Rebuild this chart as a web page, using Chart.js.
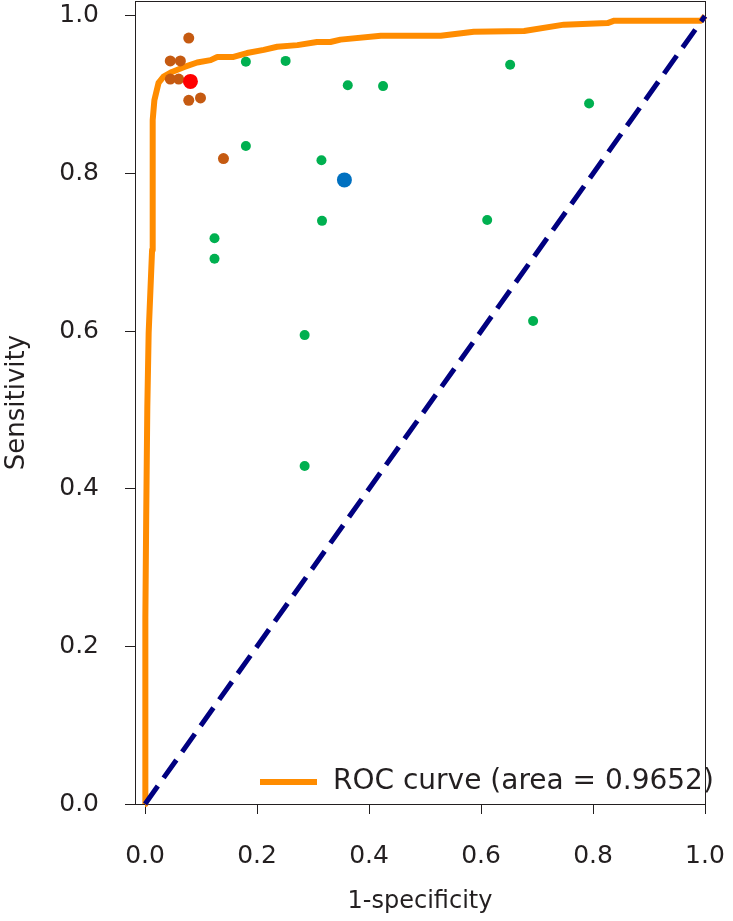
<!DOCTYPE html>
<html>
<head>
<meta charset="utf-8">
<script src="https://cdn.jsdelivr.net/npm/chart.js@4.4.0/dist/chart.umd.min.js"></script>
<style>
    html, body { margin: 0; padding: 0; background: #fff; }
    #roc-box { width: 733px; height: 921px; }
</style>
</head>
<body>
<div id="roc-box"><canvas id="roc-chart"></canvas></div>
<script>
// ROC curve
const roc_fpr = [0, 0.0005, 0.002, 0.004, 0.0064, 0.0125, 0.0136, 0.0166, 0.024, 0.033, 0.048, 0.069, 0.093, 0.117, 0.129, 0.158, 0.182, 0.212, 0.236, 0.272, 0.307, 0.331, 0.349, 0.421, 0.528, 0.587, 0.677, 0.748, 0.826, 0.838, 0.993, 1.0]
const roc_tpr = [0, 0.237, 0.364, 0.504, 0.598, 0.703, 0.868, 0.893, 0.915, 0.923, 0.929, 0.935, 0.941, 0.944, 0.948, 0.948, 0.953, 0.957, 0.961, 0.963, 0.967, 0.967, 0.970, 0.975, 0.975, 0.980, 0.981, 0.989, 0.991, 0.994, 0.994, 1.0]

// chance line
const diag_x = [0, 1]
const diag_y = [0, 1]

// green points
const green_x = [0.180, 0.251, 0.362, 0.425, 0.652, 0.793, 0.180, 0.315, 0.316, 0.611, 0.124, 0.124, 0.285, 0.693, 0.285]
const green_y = [0.942, 0.943, 0.912, 0.911, 0.938, 0.889, 0.835, 0.817, 0.740, 0.741, 0.718, 0.692, 0.595, 0.613, 0.429]

// brown points
const brown_x = [0.078, 0.045, 0.063, 0.045, 0.060, 0.078, 0.099, 0.140]
const brown_y = [0.972, 0.943, 0.943, 0.920, 0.920, 0.893, 0.896, 0.819]

// the two big points
const red_x = [0.081]
const red_y = [0.917]
const blue_x = [0.356]
const blue_y = [0.792]

const x_ticks = [0, 0.2, 0.4, 0.6, 0.8, 1.0]
const y_ticks = [0, 0.2, 0.4, 0.6, 0.8, 1.0]

const legend_label = 'ROC curve (area = 0.9652)'
const x_title = '1-specificity'
const y_title = 'Sensitivity'

const ink = '#231f20'
const font_name = '"DejaVu Sans", Verdana, sans-serif'

function to_points(xs, ys) {
    return xs.map((x, i) => ({x: x, y: ys[i]}))
}

// frame round the plot area
const frame_plugin = {
    id: 'frame_plugin',
    beforeDatasetsDraw(chart) {
        let a = chart.chartArea
        let ctx = chart.ctx
        ctx.save()
        ctx.strokeStyle = ink
        ctx.lineWidth = 1
        ctx.strokeRect(a.left + 0.5, a.top + 0.5, a.right - a.left, a.bottom - a.top)
        ctx.restore()
    }
}

// legend drawn inside the plot, bottom right
const legend_plugin = {
    id: 'legend_plugin',
    afterDatasetsDraw(chart) {
        let ctx = chart.ctx
        let ds = chart.data.datasets.find(d => d.label === legend_label)
        ctx.save()
        ctx.strokeStyle = ds.borderColor
        ctx.lineWidth = 6
        ctx.beginPath()
        ctx.moveTo(260, 782)
        ctx.lineTo(317, 782)
        ctx.stroke()
        ctx.font = '28px ' + font_name
        ctx.fillStyle = ink
        ctx.textBaseline = 'middle'
        ctx.fillText(legend_label, 333, 782)
        ctx.restore()
    }
}

function set_up_chart() {
    const data = {
        datasets: [
            {
                label: 'red',
                data: to_points(red_x, red_y),
                backgroundColor: '#ff0000',
                borderWidth: 0,
                pointRadius: 7.5,
                order: 1
            }, {
                label: 'blue',
                data: to_points(blue_x, blue_y),
                backgroundColor: '#0070c0',
                borderWidth: 0,
                pointRadius: 7.5,
                order: 1
            }, {
                label: 'brown',
                data: to_points(brown_x, brown_y),
                backgroundColor: '#c55a11',
                borderWidth: 0,
                pointRadius: 5.5,
                order: 2
            }, {
                label: 'green',
                data: to_points(green_x, green_y),
                backgroundColor: '#00b050',
                borderWidth: 0,
                pointRadius: 5,
                order: 2
            }, {
                label: 'chance',
                data: to_points(diag_x, diag_y),
                showLine: true,
                borderColor: '#000080',
                borderWidth: 5,
                borderDash: [22, 10],
                pointRadius: 0,
                order: 3
            }, {
                label: legend_label,
                data: to_points(roc_fpr, roc_tpr),
                showLine: true,
                borderColor: '#ff8c00',
                borderWidth: 6,
                borderJoinStyle: 'round',
                pointRadius: 0,
                tension: 0,
                order: 4
            },
        ]
    }

    const config = {
        type: 'scatter',
        data: data,
        options: {
            responsive: true,
            maintainAspectRatio: false,
            animation: false,
            clip: false,
            layout: {autoPadding: false, padding: {top: 1, right: 28, left: 0, bottom: 0}},
            plugins: {
                legend: {display: false},
                tooltip: {enabled: false}
            },
            scales: {
                x: {
                    type: 'linear',
                    min: -0.018,
                    max: 1.0,
                    afterBuildTicks: (scale) => { scale.ticks = x_ticks.map(v => ({value: v})) },
                    afterFit: (scale) => {
                        scale.height = 117
                        scale.paddingLeft = 0
                        scale.paddingRight = 0
                    },
                    grid: {drawOnChartArea: false, drawTicks: true, tickLength: 10, color: ink},
                    border: {display: true, color: ink},
                    ticks: {
                        padding: 27,
                        color: ink,
                        font: {family: font_name, size: 25},
                        callback: (v) => Number(v).toFixed(1)
                    },
                    title: {
                        display: true,
                        text: x_title,
                        color: ink,
                        font: {family: font_name, size: 24},
                        padding: {top: 0, bottom: 5}
                    }
                },
                y: {
                    type: 'linear',
                    min: 0,
                    max: 1.019,
                    afterBuildTicks: (scale) => { scale.ticks = y_ticks.map(v => ({value: v})) },
                    afterFit: (scale) => {
                        scale.width = 135
                        scale.paddingTop = 0
                        scale.paddingBottom = 0
                    },
                    grid: {drawOnChartArea: false, drawTicks: true, tickLength: 10, color: ink},
                    border: {display: true, color: ink},
                    ticks: {
                        padding: 26,
                        color: ink,
                        font: {family: font_name, size: 25},
                        callback: (v) => Number(v).toFixed(1)
                    },
                    title: {
                        display: true,
                        text: y_title,
                        color: ink,
                        font: {family: font_name, size: 26},
                        padding: {top: 2, bottom: 0}
                    }
                }
            }
        },
        plugins: [frame_plugin, legend_plugin]
    }

    let my_chart = document.querySelector("#roc-chart")
    let crt = new Chart(my_chart, config)
}

set_up_chart()
</script>
</body>
</html>
